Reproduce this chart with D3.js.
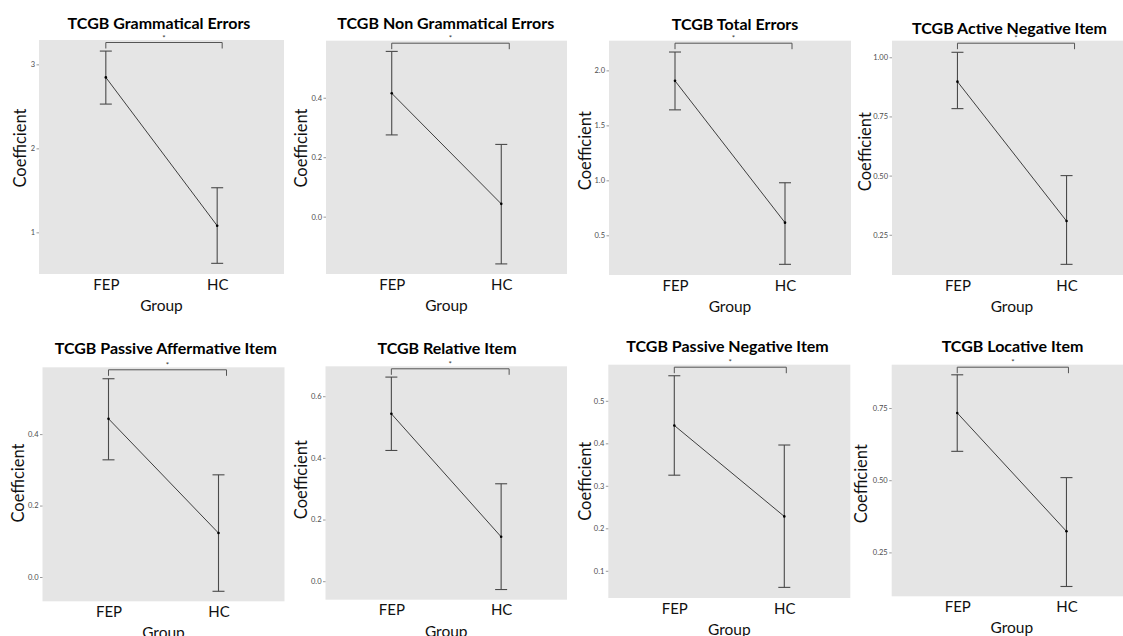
<!DOCTYPE html>
<html>
<head>
<meta charset="utf-8">
<script src="https://cdn.jsdelivr.net/npm/d3@7"></script>
<style>
  body { margin: 0; background: #fff; }
  text { font-family: Lato, "Open Sans", sans-serif; }
</style>
</head>
<body>
<script>
// Chart data, one entry per panel
var titles = [
    "TCGB Grammatical Errors", "TCGB Non Grammatical Errors", "TCGB Total Errors", "TCGB Active Negative Item",
    "TCGB Passive Affermative Item", "TCGB Relative Item", "TCGB Passive Negative Item", "TCGB Locative Item"
];
var groups = ["FEP", "HC"];
var means = [[2.845, 1.079], [0.415, 0.043], [1.905, 0.615], [0.897, 0.308],
             [0.443, 0.123], [0.543, 0.144], [0.442, 0.228], [0.733, 0.323]];
var lower = [[2.527, 0.631], [0.275, -0.159], [1.641, 0.236], [0.783, 0.125],
             [0.328, -0.040], [0.424, -0.027], [0.325, 0.061], [0.600, 0.132]];
var upper = [[3.158, 1.531], [0.556, 0.243], [2.167, 0.978], [1.021, 0.500],
             [0.555, 0.286], [0.662, 0.316], [0.559, 0.396], [0.865, 0.509]];
var yDomains = [[0.504, 3.29], [-0.193, 0.592], [0.139, 2.27], [0.08, 1.07],
                [-0.068, 0.587], [-0.06, 0.697], [0.036, 0.585], [0.098, 0.90]];
var yTicks = [[1, 2, 3], [0, 0.2, 0.4], [0.5, 1, 1.5, 2], [0.25, 0.5, 0.75, 1],
              [0, 0.2, 0.4], [0, 0.2, 0.4, 0.6], [0.1, 0.2, 0.3, 0.4, 0.5], [0.25, 0.5, 0.75]];
var tickFormats = ["d", ".1f", ".1f", ".2f", ".1f", ".1f", ".1f", ".2f"];
var sigLabels = ["*", "*", "*", "*", "*", "*", "*", "*"];

// where each panel sits on the page
var layout = [
    {x0: 39,    x1: 284,   y0: 40,    y1: 274,   tx: 159,    ty: 28.5,  lx: 20.7,  ly: 148,   bx: 5},
    {x0: 326,   x1: 567,   y0: 40.7,  y1: 274,   tx: 445.8,  ty: 28.5,  lx: 301.7, ly: 148,   bx: 8},
    {x0: 609,   x1: 851,   y0: 40.7,  y1: 275,   tx: 735,    ty: 29.8,  lx: 585,   ly: 150.7, bx: 7},
    {x0: 892,   x1: 1132,  y0: 40.7,  y1: 275,   tx: 1009.5, ty: 34.1,  lx: 865,   ly: 151.7, bx: 8},
    {x0: 42.5,  x1: 284.5, y0: 367.3, y1: 601.3, tx: 165.8,  ty: 353.8, lx: 18.3,  ly: 483,   bx: 8},
    {x0: 325.5, x1: 567,   y0: 366.3, y1: 599.7, tx: 447,    ty: 353.8, lx: 301.7, ly: 479.7, bx: 8},
    {x0: 608.3, x1: 850.3, y0: 364.7, y1: 598,   tx: 727.5,  ty: 352.1, lx: 585,   ly: 481.3, bx: 2},
    {x0: 891.7, x1: 1132,  y0: 364.7, y1: 596.3, tx: 1012.5, ty: 352.1, lx: 861.7, ly: 483.7, bx: 2}
];

var w = 1123;
var h = 636;

var svg = d3.select("body")
    .append("svg")
    .attr("width", w)
    .attr("height", h);

titles.forEach(function(title, i) {
    var L = layout[i];
    var g = svg.append("g");

    var x = d3.scalePoint()
        .domain(groups)
        .range([L.x0, L.x1])
        .padding(0.6);

    var y = d3.scaleLinear()
        .domain(yDomains[i])
        .range([L.y1, L.y0]);

    // grey panel background
    g.append("rect")
        .attr("x", L.x0)
        .attr("y", L.y0)
        .attr("width", L.x1 - L.x0)
        .attr("height", L.y1 - L.y0)
        .attr("fill", "#e5e5e5");

    // y axis
    var yAxis = g.append("g")
        .attr("transform", "translate(" + L.x0 + ",0)")
        .call(d3.axisLeft(y)
            .tickValues(yTicks[i])
            .tickFormat(d3.format(tickFormats[i]))
            .tickSize(2.5)
            .tickPadding(1.5));
    yAxis.select(".domain").remove();
    yAxis.selectAll(".tick line").attr("stroke", "#555").attr("stroke-width", 0.6);
    yAxis.selectAll(".tick text")
        .attr("fill", "#4d4d4d")
        .style("font-size", "7.5px")
        .style("font-family", "Lato, sans-serif");

    // x axis
    var xAxis = g.append("g")
        .attr("transform", "translate(0," + L.y1 + ")")
        .call(d3.axisBottom(x).tickSize(0).tickPadding(5));
    xAxis.select(".domain").remove();
    xAxis.selectAll(".tick text")
        .attr("fill", "#111")
        .style("font-size", "15px")
        .style("font-family", "Lato, sans-serif");

    // error bars
    var data = groups.map(function(grp, j) {
        return {grp: grp, m: means[i][j], lo: lower[i][j], hi: upper[i][j]};
    });

    var bars = g.selectAll(".err")
        .data(data)
        .enter()
        .append("g")
        .attr("class", "err")
        .attr("stroke", "#4a4a4a")
        .attr("stroke-width", 1.1);
    bars.append("line")
        .attr("x1", function(d) { return x(d.grp); })
        .attr("x2", function(d) { return x(d.grp); })
        .attr("y1", function(d) { return y(d.lo); })
        .attr("y2", function(d) { return y(d.hi); });
    bars.append("line")
        .attr("x1", function(d) { return x(d.grp) - 6; })
        .attr("x2", function(d) { return x(d.grp) + 6; })
        .attr("y1", function(d) { return y(d.hi); })
        .attr("y2", function(d) { return y(d.hi); });
    bars.append("line")
        .attr("x1", function(d) { return x(d.grp) - 6; })
        .attr("x2", function(d) { return x(d.grp) + 6; })
        .attr("y1", function(d) { return y(d.lo); })
        .attr("y2", function(d) { return y(d.lo); });

    // line between the means
    g.append("path")
        .datum(data)
        .attr("fill", "none")
        .attr("stroke", "#2b2b2b")
        .attr("stroke-width", 0.9)
        .attr("d", d3.line()
            .x(function(d) { return x(d.grp); })
            .y(function(d) { return y(d.m); }));

    g.selectAll(".pt")
        .data(data)
        .enter()
        .append("circle")
        .attr("class", "pt")
        .attr("cx", function(d) { return x(d.grp); })
        .attr("cy", function(d) { return y(d.m); })
        .attr("r", 1.3)
        .attr("fill", "#000");

    // significance bracket
    var by = L.y0 + 2.5;
    var bl = x(groups[0]);
    var br = x(groups[1]) + L.bx;
    g.append("path")
        .attr("fill", "none")
        .attr("stroke", "#555")
        .attr("stroke-width", 1)
        .attr("d", "M" + bl + "," + (by + 6) + "V" + by + "H" + br + "V" + (by + 6));
    g.append("text")
        .attr("x", (bl + br) / 2)
        .attr("y", by - 2)
        .attr("text-anchor", "middle")
        .style("font-size", "8px")
        .attr("fill", "#333")
        .text(sigLabels[i]);

    // titles and axis labels
    g.append("text")
        .attr("x", L.tx)
        .attr("y", L.ty)
        .attr("text-anchor", "middle")
        .style("font-size", "16px")
        .style("font-weight", "bold")
        .attr("fill", "#000")
        .text(title);

    g.append("text")
        .attr("transform", "translate(" + L.lx + "," + L.ly + ") rotate(-90)")
        .attr("text-anchor", "middle")
        .attr("dy", "0.35em")
        .style("font-size", "16.5px")
        .attr("fill", "#111")
        .text("Coefficient");

    g.append("text")
        .attr("x", (L.x0 + L.x1) / 2)
        .attr("y", L.y1 + 37)
        .attr("text-anchor", "middle")
        .style("font-size", "15.5px")
        .attr("fill", "#111")
        .text("Group");
});
</script>
</body>
</html>
